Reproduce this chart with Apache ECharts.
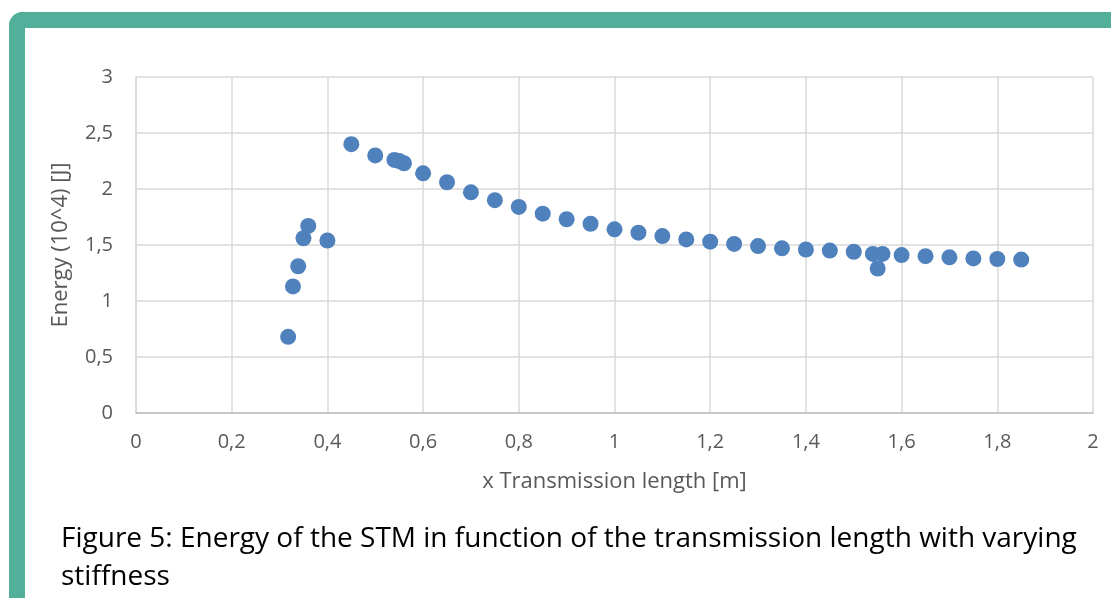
<!DOCTYPE html>
<html>
<head>
<meta charset="utf-8">
<script src="https://cdn.jsdelivr.net/npm/echarts@6/dist/echarts.min.js"></script>
<style>
  html, body { margin: 0; padding: 0; background: #fff; overflow: hidden; }
  .frame {
    position: absolute; left: 9px; top: 12px; width: 1200px; height: 700px;
    border-top: 16px solid #52b09a; border-left: 16px solid #52b09a;
    border-top-left-radius: 14px; box-sizing: border-box;
  }
  #chart { position: absolute; left: 0; top: 0; width: 1111px; height: 598px; }
</style>
</head>
<body>
<div class="frame"></div>
<div id="chart"></div>
<script>
// transmission length [m]
const lengths = [0.318, 0.328, 0.339, 0.35, 0.36, 0.40, 0.45, 0.50, 0.54, 0.55, 0.56, 0.60, 0.65, 0.70,
  0.75, 0.80, 0.85, 0.90, 0.95, 1.00, 1.05, 1.10, 1.15, 1.20, 1.25, 1.30, 1.35, 1.40, 1.45, 1.50,
  1.54, 1.56, 1.55, 1.60, 1.65, 1.70, 1.75, 1.80, 1.85];
// energy (10^4) [J]
const energies = [0.68, 1.13, 1.31, 1.56, 1.67, 1.54, 2.40, 2.30, 2.26, 2.25, 2.23, 2.14, 2.06, 1.97,
  1.90, 1.84, 1.78, 1.73, 1.69, 1.64, 1.61, 1.58, 1.55, 1.53, 1.51, 1.49, 1.47, 1.46, 1.45, 1.44,
  1.42, 1.42, 1.29, 1.41, 1.40, 1.39, 1.38, 1.375, 1.37];

const comma = (v) => String(v).replace(".", ",");

const chart = echarts.init(document.getElementById("chart"));
chart.setOption({
  animation: false,
  textStyle: { fontFamily: "Open Sans" },
  title: {
    text: "Figure 5: Energy of the STM in function of the transmission length with varying\nstiffness",
    left: 56,
    top: 515,
    textStyle: { fontSize: 28, fontWeight: "normal", color: "#000", lineHeight: 38, fontFamily: "Open Sans" },
  },
  grid: { left: 136, right: 18, top: 77, bottom: 185 },
  xAxis: {
    type: "value",
    min: 0, max: 2, interval: 0.2,
    name: "x Transmission length [m]",
    nameLocation: "middle",
    nameGap: 58,
    nameTextStyle: { fontSize: 22, color: "#595959" },
    axisLine: { lineStyle: { color: "#bfbfbf", width: 1.5 } },
    axisTick: { show: false },
    axisLabel: { fontSize: 20, color: "#595959", margin: 19, formatter: (v) => comma(Math.round(v * 10) / 10) },
    splitLine: { lineStyle: { color: "#d9d9d9", width: 1.5 } },
  },
  yAxis: {
    type: "value",
    min: 0, max: 3, interval: 0.5,
    name: "Energy (10^4) [J]",
    nameLocation: "middle",
    nameGap: 64,
    nameTextStyle: { fontSize: 22, color: "#595959" },
    axisLine: { show: true, lineStyle: { color: "#d9d9d9", width: 1.5 } },
    axisTick: { show: false },
    axisLabel: { fontSize: 20, color: "#595959", margin: 23, formatter: comma },
    splitLine: { lineStyle: { color: "#d9d9d9", width: 1.5 } },
  },
  series: [{
    type: "scatter",
    symbolSize: 16,
    itemStyle: { color: "#4f81bd", opacity: 1 },
    data: lengths.map((x, i) => [x, energies[i]]),
  }],
});
</script>
</body>
</html>
